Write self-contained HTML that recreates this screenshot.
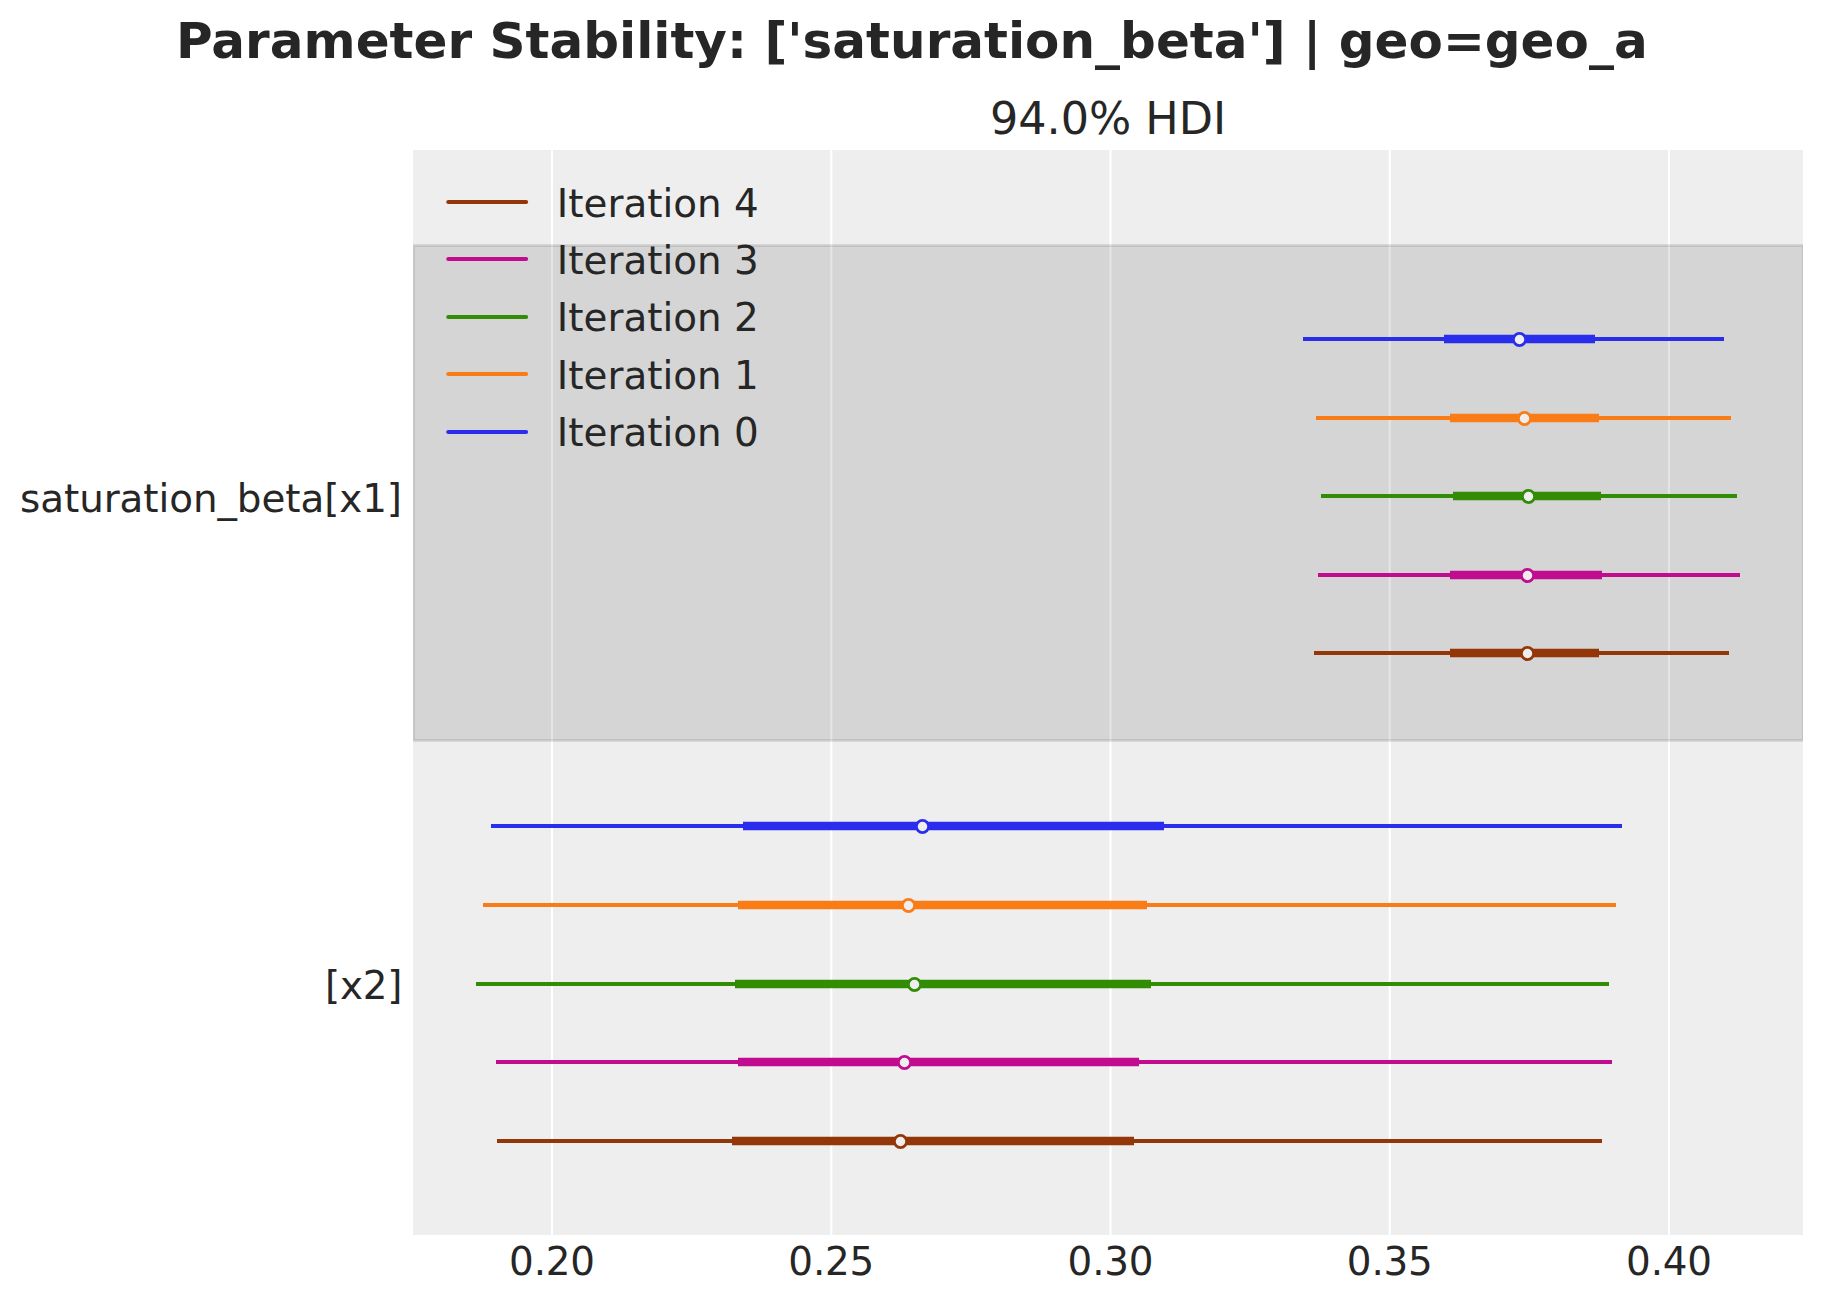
<!DOCTYPE html>
<html lang="en"><head><meta charset="utf-8"><title>Parameter Stability</title>
<style>html,body{margin:0;padding:0;background:#fff}body{width:1823px;height:1303px;overflow:hidden}svg{display:block}text{font-family:"DejaVu Sans","Liberation Sans",sans-serif;fill:#262626}.t14{font-size:38.89px}.t16{font-size:44.44px}.t18{font-size:50px;font-weight:bold}</style></head><body>
<svg width="1823" height="1303" viewBox="0 0 1823 1303">
<defs><clipPath id="ax"><rect x="413.00" y="150.00" width="1390.00" height="1085.00"/></clipPath></defs>
<rect width="1823" height="1303" fill="#fff"/>
<rect x="413.00" y="150.00" width="1390.00" height="1085.00" fill="#eeeeee"/>
<g clip-path="url(#ax)">
<g stroke="#fff" stroke-width="2.08">
<line x1="552.00" y1="150.00" x2="552.00" y2="1235.00"/>
<line x1="831.25" y1="150.00" x2="831.25" y2="1235.00"/>
<line x1="1110.50" y1="150.00" x2="1110.50" y2="1235.00"/>
<line x1="1389.75" y1="150.00" x2="1389.75" y2="1235.00"/>
<line x1="1669.00" y1="150.00" x2="1669.00" y2="1235.00"/>
</g>
<rect x="413.5" y="245.5" width="1390" height="495" fill="#000" fill-opacity="0.1" stroke="#000" stroke-opacity="0.1" stroke-width="2.78"/>
<g stroke="#2a2eec" fill="none">
<line x1="1303.0" y1="339.0" x2="1724.0" y2="339.0" stroke-width="4.17"/>
<line x1="1444.0" y1="339.0" x2="1595.0" y2="339.0" stroke-width="8.33"/>
<circle cx="1519.5" cy="339.5" r="6.15" fill="#eeeeee" stroke-width="2.78"/>
</g>
<g stroke="#fa7c17" fill="none">
<line x1="1316.0" y1="418.0" x2="1731.0" y2="418.0" stroke-width="4.17"/>
<line x1="1450.0" y1="418.0" x2="1599.0" y2="418.0" stroke-width="8.33"/>
<circle cx="1524.5" cy="418.5" r="6.15" fill="#eeeeee" stroke-width="2.78"/>
</g>
<g stroke="#328c06" fill="none">
<line x1="1321.0" y1="496.0" x2="1737.0" y2="496.0" stroke-width="4.17"/>
<line x1="1453.0" y1="496.0" x2="1601.0" y2="496.0" stroke-width="8.33"/>
<circle cx="1528.5" cy="496.5" r="6.15" fill="#eeeeee" stroke-width="2.78"/>
</g>
<g stroke="#c10c90" fill="none">
<line x1="1318.0" y1="575.0" x2="1740.0" y2="575.0" stroke-width="4.17"/>
<line x1="1450.0" y1="575.0" x2="1602.0" y2="575.0" stroke-width="8.33"/>
<circle cx="1527.5" cy="575.5" r="6.15" fill="#eeeeee" stroke-width="2.78"/>
</g>
<g stroke="#933708" fill="none">
<line x1="1314.0" y1="653.0" x2="1729.0" y2="653.0" stroke-width="4.17"/>
<line x1="1450.0" y1="653.0" x2="1599.0" y2="653.0" stroke-width="8.33"/>
<circle cx="1527.5" cy="653.5" r="6.15" fill="#eeeeee" stroke-width="2.78"/>
</g>
<g stroke="#2a2eec" fill="none">
<line x1="491.0" y1="826.0" x2="1622.0" y2="826.0" stroke-width="4.17"/>
<line x1="743.0" y1="826.0" x2="1164.0" y2="826.0" stroke-width="8.33"/>
<circle cx="922.5" cy="826.5" r="6.15" fill="#eeeeee" stroke-width="2.78"/>
</g>
<g stroke="#fa7c17" fill="none">
<line x1="483.0" y1="905.0" x2="1616.0" y2="905.0" stroke-width="4.17"/>
<line x1="738.0" y1="905.0" x2="1147.0" y2="905.0" stroke-width="8.33"/>
<circle cx="908.5" cy="905.5" r="6.15" fill="#eeeeee" stroke-width="2.78"/>
</g>
<g stroke="#328c06" fill="none">
<line x1="476.0" y1="984.0" x2="1609.0" y2="984.0" stroke-width="4.17"/>
<line x1="735.0" y1="984.0" x2="1151.0" y2="984.0" stroke-width="8.33"/>
<circle cx="914.5" cy="984.5" r="6.15" fill="#eeeeee" stroke-width="2.78"/>
</g>
<g stroke="#c10c90" fill="none">
<line x1="496.0" y1="1062.0" x2="1612.0" y2="1062.0" stroke-width="4.17"/>
<line x1="738.0" y1="1062.0" x2="1139.0" y2="1062.0" stroke-width="8.33"/>
<circle cx="904.5" cy="1062.5" r="6.15" fill="#eeeeee" stroke-width="2.78"/>
</g>
<g stroke="#933708" fill="none">
<line x1="497.0" y1="1141.0" x2="1602.0" y2="1141.0" stroke-width="4.17"/>
<line x1="732.0" y1="1141.0" x2="1134.0" y2="1141.0" stroke-width="8.33"/>
<circle cx="900.5" cy="1141.5" r="6.15" fill="#eeeeee" stroke-width="2.78"/>
</g>
</g>
<line x1="448.3" y1="202.0" x2="526.1" y2="202.0" stroke="#933708" stroke-width="4.17" stroke-linecap="round"/>
<text class="t14" x="556.8" y="216.9">Iteration 4</text>
<line x1="448.3" y1="259.0" x2="526.1" y2="259.0" stroke="#c10c90" stroke-width="4.17" stroke-linecap="round"/>
<text class="t14" x="556.8" y="273.9">Iteration 3</text>
<line x1="448.3" y1="317.0" x2="526.1" y2="317.0" stroke="#328c06" stroke-width="4.17" stroke-linecap="round"/>
<text class="t14" x="556.8" y="330.9">Iteration 2</text>
<line x1="448.3" y1="374.0" x2="526.1" y2="374.0" stroke="#fa7c17" stroke-width="4.17" stroke-linecap="round"/>
<text class="t14" x="556.8" y="388.9">Iteration 1</text>
<line x1="448.3" y1="432.0" x2="526.1" y2="432.0" stroke="#2a2eec" stroke-width="4.17" stroke-linecap="round"/>
<text class="t14" x="556.8" y="445.9">Iteration 0</text>
<text class="t14" text-anchor="middle" x="552.10" y="1275" textLength="85.96" lengthAdjust="spacing">0.20</text>
<text class="t14" text-anchor="middle" x="831.35" y="1275" textLength="85.96" lengthAdjust="spacing">0.25</text>
<text class="t14" text-anchor="middle" x="1110.60" y="1275" textLength="85.96" lengthAdjust="spacing">0.30</text>
<text class="t14" text-anchor="middle" x="1389.85" y="1275" textLength="85.96" lengthAdjust="spacing">0.35</text>
<text class="t14" text-anchor="middle" x="1669.10" y="1275" textLength="85.96" lengthAdjust="spacing">0.40</text>
<text class="t14" text-anchor="end" x="402.0" y="511.8" textLength="381.9" lengthAdjust="spacing">saturation_beta[x1]</text>
<text class="t14" text-anchor="end" x="402.3" y="998.9" textLength="77.3" lengthAdjust="spacing">[x2]</text>
<text class="t16" text-anchor="middle" x="1108.1" y="133.5">94.0% HDI</text>
<text class="t18" text-anchor="middle" x="911.85" y="57.7" textLength="1471.6" lengthAdjust="spacing">Parameter Stability: ['saturation_beta'] | geo=geo_a</text>
</svg></body></html>
